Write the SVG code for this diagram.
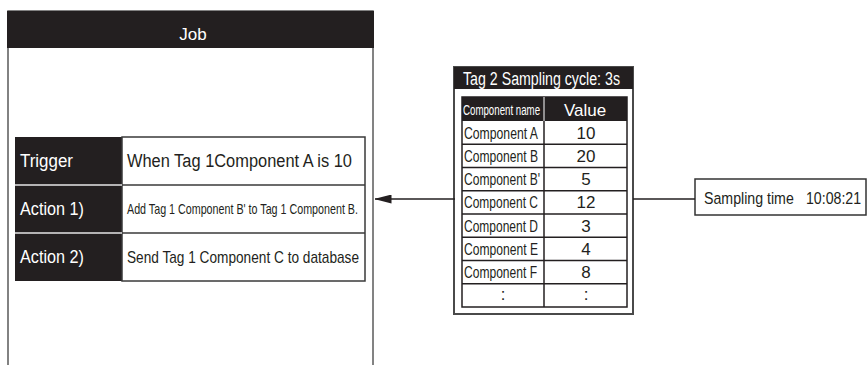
<svg xmlns="http://www.w3.org/2000/svg" width="867" height="365" viewBox="0 0 867 365">
<style>
text{font-family:"Liberation Sans",Arial,sans-serif;}
.w{fill:#fff}
.k{fill:#231f20}
.hdr{fill:#231f20}
.cell{fill:#fff;stroke:#3a3a3a;stroke-width:1.5}
.grid{stroke:#231f20;stroke-width:1.5;fill:none}
.conn{stroke:#231f20;stroke-width:1.3;fill:none}
</style>
<defs>
<marker id="ah" viewBox="0 0 17 9" refX="16.5" refY="4.5" markerWidth="17" markerHeight="9" markerUnits="userSpaceOnUse" orient="auto">
<path d="M17,4.5 L0,0 L0,9 Z" fill="#231f20"/>
</marker>
</defs>

<g id="job">
<rect x="8" y="11" width="365" height="365" fill="#fff" stroke="#5a5a5a" stroke-width="1.5"/>
<rect x="7" y="11" width="367" height="37" class="hdr"/>
<text x="193" y="40" font-size="17" text-anchor="middle" class="w">Job</text>
<rect x="15" y="137" width="107" height="144" class="hdr"/>
<rect x="122" y="137" width="243" height="144" class="cell"/>
<line x1="122" y1="185" x2="365" y2="185" stroke="#3a3a3a" stroke-width="1.5"/>
<line x1="122" y1="233" x2="365" y2="233" stroke="#3a3a3a" stroke-width="1.5"/>
<line x1="15" y1="185" x2="122" y2="185" stroke="#e6e6e6" stroke-width="1.5"/>
<line x1="15" y1="233" x2="122" y2="233" stroke="#e6e6e6" stroke-width="1.5"/>
<text x="20" y="167" font-size="18" class="w" textLength="53" lengthAdjust="spacingAndGlyphs">Trigger</text>
<text x="20" y="215" font-size="18" class="w" textLength="64" lengthAdjust="spacingAndGlyphs">Action 1)</text>
<text x="20" y="263" font-size="18" class="w" textLength="64" lengthAdjust="spacingAndGlyphs">Action 2)</text>
<text x="127" y="167" font-size="18" class="k" textLength="225" lengthAdjust="spacingAndGlyphs">When Tag 1Component A is 10</text>
<text x="127" y="214" font-size="15" class="k" textLength="231" lengthAdjust="spacingAndGlyphs">Add Tag 1 Component B' to Tag 1 Component B.</text>
<text x="127" y="263" font-size="17" class="k" textLength="232" lengthAdjust="spacingAndGlyphs">Send Tag 1 Component C to database</text>
</g>

<g id="tag2">
<rect x="454" y="67" width="179" height="247" fill="#fff" stroke="#4a4a4a" stroke-width="2"/>
<rect x="454" y="67" width="179" height="22" class="hdr"/>
<text x="463" y="85" font-size="18" class="w" textLength="157" lengthAdjust="spacingAndGlyphs">Tag 2 Sampling cycle: 3s</text>
<rect x="462" y="97" width="165" height="24" class="hdr"/>
<rect x="462" y="97" width="165" height="210" class="grid"/>
<g class="grid">
<line x1="544" y1="97" x2="544" y2="121" stroke="#fff" stroke-width="1"/>
<line x1="544" y1="121" x2="544" y2="307"/>
<line x1="462" y1="144.25" x2="627" y2="144.25"/>
<line x1="462" y1="167.5" x2="627" y2="167.5"/>
<line x1="462" y1="190.75" x2="627" y2="190.75"/>
<line x1="462" y1="214" x2="627" y2="214"/>
<line x1="462" y1="237.25" x2="627" y2="237.25"/>
<line x1="462" y1="260.5" x2="627" y2="260.5"/>
<line x1="462" y1="283.75" x2="627" y2="283.75"/>
</g>
<text transform="translate(463,115) scale(0.647,1)" font-size="15" class="w">Component name</text>
<text x="585" y="116" font-size="17" class="w" text-anchor="middle">Value</text>
<g font-size="16.5" class="k">
<text x="464" y="138.5" textLength="74" lengthAdjust="spacingAndGlyphs">Component A</text>
<text x="464" y="161.5" textLength="74" lengthAdjust="spacingAndGlyphs">Component B</text>
<text x="464" y="185" textLength="76" lengthAdjust="spacingAndGlyphs">Component B'</text>
<text x="464" y="208" textLength="74" lengthAdjust="spacingAndGlyphs">Component C</text>
<text x="464" y="231.5" textLength="74" lengthAdjust="spacingAndGlyphs">Component D</text>
<text x="464" y="254.5" textLength="74" lengthAdjust="spacingAndGlyphs">Component E</text>
<text x="464" y="277.5" textLength="73" lengthAdjust="spacingAndGlyphs">Component F</text>
<text x="503" y="300" text-anchor="middle">:</text>
</g>
<g font-size="17" class="k" text-anchor="middle">
<text x="586" y="138.5">10</text>
<text x="586" y="161.5">20</text>
<text x="586" y="185">5</text>
<text x="586" y="208">12</text>
<text x="586" y="231.5">3</text>
<text x="586" y="254.5">4</text>
<text x="586" y="277.5">8</text>
<text x="586" y="300">:</text>
</g>
</g>

<g id="sampling">
<rect x="695" y="179" width="171" height="36" fill="#fff" stroke="#333" stroke-width="1.5"/>
<text transform="translate(704,204) scale(0.834,1)" font-size="17" class="k"><tspan x="0">Sampling time</tspan><tspan x="122.3">10:08:21</tspan></text>
</g>

<g id="connectors">
<line x1="455" y1="199" x2="375" y2="199" class="conn" marker-end="url(#ah)"/>
<line x1="633" y1="199" x2="695" y2="199" class="conn"/>
</g>
</svg>
